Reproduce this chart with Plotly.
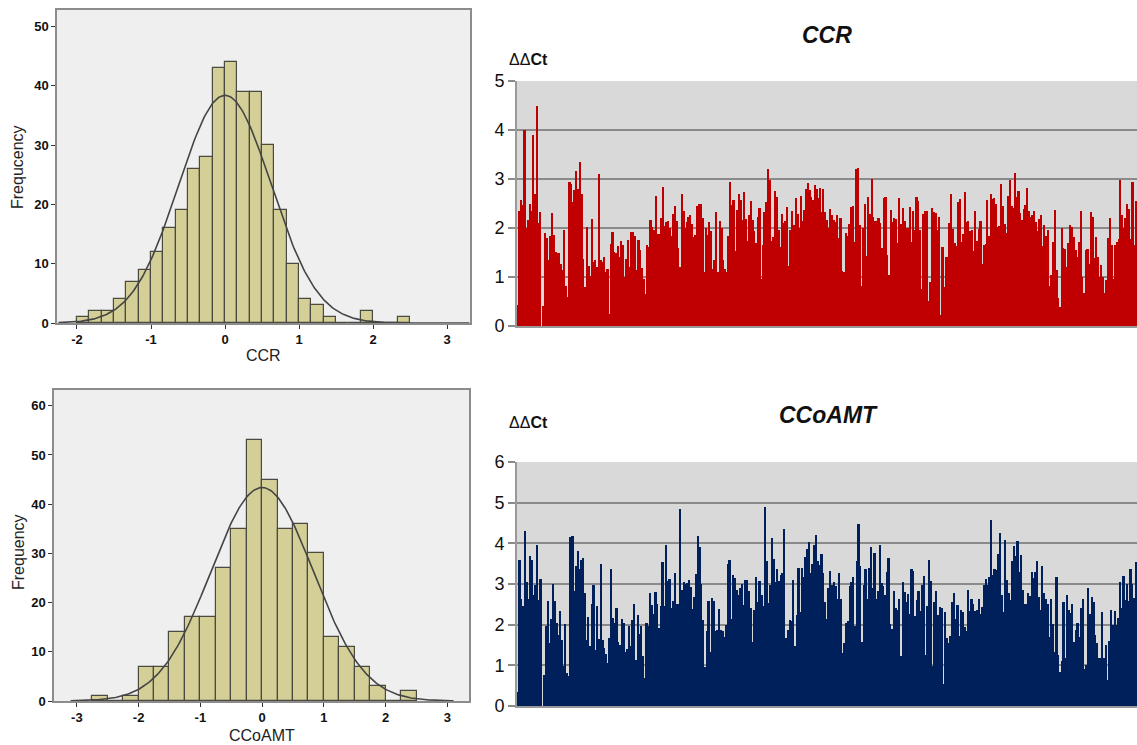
import math
import plotly.graph_objects as go

W, H = 1137, 745

# ---------------- Histogram data ----------------
ccr_bin_start = -2.0
ccr_bin_width = 1 / 6
ccr_counts = [1, 2, 2, 4, 7, 9, 12, 16, 19, 26, 28, 43, 44, 39, 39, 30, 19, 10, 4, 3, 1, 0, 0, 2, 0, 0, 1]
ccr_fit = dict(mean=0.0, sd=0.625, n=361)

ccoamt_bin_start = -2.75
ccoamt_bin_width = 0.25
ccoamt_counts = [1, 0, 1, 7, 7, 14, 17, 17, 27, 35, 53, 45, 35, 36, 30, 13, 11, 7, 3, 0, 2]
ccoamt_fit = dict(mean=0.0, sd=0.83, n=361)

# ---------------- ΔΔCt per sample ----------------
ccr_ddct = [
    0.43, 2.35, 2.57, 2.47, 4.0, 2.0, 2.16, 2.5, 2.35, 3.9, 2.7, 4.49, 2.1, 2.33, 0, 0.4, 1.89, 1.79, 1.35, 1.84,
    2.3, 1.86, 1.52, 1.5, 1.48, 1.27, 1.14, 1.96, 0.82, 0.6, 2.93, 2.9, 2.54, 2.78, 3.16, 2.8, 3.34, 2.7, 1.37, 0.8,
    2.02, 1.22, 1.02, 2.18, 1.31, 1.35, 1.21, 3.1, 1.35, 1.3, 1.41, 1.1, 1.16, 0.25, 1.67, 1.91, 1.52, 1.48, 1.63, 1.41,
    1.74, 1.65, 0.99, 1.37, 1.76, 1.21, 1.91, 1.91, 1.84, 1.14, 1.76, 1.55, 1.18, 0.96, 0.65, 1.65, 1.62, 2.16, 2.03, 1.96,
    2.66, 1.87, 1.87, 2.2, 2.83, 2.04, 2.13, 2.15, 2.01, 1.84, 2.28, 2.44, 2.15, 1.6, 1.21, 2.69, 2.35, 2.0, 2.13, 2.23,
    2.27, 2.08, 1.82, 1.86, 2.44, 2.49, 2.48, 2.2, 1.11, 2.0, 1.86, 2.13, 1.93, 1.16, 1.35, 2.32, 1.1, 2.15, 2.0, 1.35,
    1.16, 1.11, 1.84, 2.93,
    2.47, 2.57, 1.54, 2.37, 2.7, 2.57, 2.16, 2.74, 2.18, 1.74, 2.27, 2.56, 2.16, 1.93, 1.7, 2.23, 2.4, 0.95, 1.65, 2.33,
    2.54, 3.2, 2.98, 1.74, 1.81, 2.76, 2.64, 1.96, 1.62, 2.28, 2.11, 2.14, 2.42, 1.23, 1.96, 2.35, 2.06, 2.61, 2.28, 2.0,
    2.65, 2.15, 2.37, 2.8, 2.91, 2.78, 2.64, 2.57, 2.88, 2.8, 2.62, 2.81, 2.32, 2.79, 2.32, 2.16, 2.0, 2.38, 2.27, 2.16,
    2.13, 2.27, 1.79, 2.21, 1.12, 1.11, 1.89, 1.84, 2.08, 2.42, 2.44, 1.72, 3.2, 3.23, 2.06, 0.82, 2.0, 2.49, 1.43, 2.63,
    2.28, 3.01, 2.23, 2.14, 2.14, 2.2, 2.1, 1.6, 2.61, 2.63, 1.45, 1.05, 2.37, 2.13, 2.2, 2.18, 1.69, 2.61, 2.08, 2.4,
    2.14, 2.0, 2.0, 2.42, 1.72, 2.35, 1.96, 2.63, 2.56, 1.95, 0.75, 2.28, 2.35, 2.35, 0.51, 0.89, 2.41,
    2.32, 2.3, 1.96, 2.22, 0.22, 1.61, 0.79, 1.41, 1.41, 2.1, 2.69, 1.98, 1.69, 1.63, 2.54, 2.59, 1.72, 1.87, 2.74, 2.13,
    2.14, 1.94, 1.96, 1.53, 2.35, 1.74, 1.98, 2.15, 1.26, 1.65, 1.67, 2.57, 1.84, 2.69, 2.59, 2.62, 2.5, 2.03, 2.05, 2.9,
    2.44, 2.08, 1.89, 2.65, 2.97, 2.44, 2.4, 3.12, 2.63, 2.76, 2.31, 2.16, 2.38, 2.47, 2.81, 2.35, 2.23, 2.27, 2.35, 2.13,
    1.94, 2.18, 2.27, 1.63, 2.06, 1.84, 1.96, 0.82, 1.04, 1.71, 2.37, 1.14, 0.58, 0.39, 2.0, 1.59, 1.57, 1.2, 1.69, 2.06,
    2.03, 1.81, 1.55, 1.41, 1.72, 2.35, 1.01, 0.68, 1.55, 1.57, 1.27, 2.32, 2.23, 1.38, 1.81, 1.41, 1.01, 1.24, 0.99, 0.68,
    0.94, 1.79, 2.2, 1.65, 0.96, 1.65, 1.72, 1.78, 2.98, 2.27, 2.01, 2.2, 2.48, 2.39, 1.78, 2.93, 1.65, 2.55,
]

ccoamt_ddct = [
    0.35, 3.6, 2.64, 2.46, 4.31, 3.05, 2.63, 3.68, 3.58, 2.74, 2.97, 3.97, 2.6, 3.12, 0, 0.76, 1.96, 2.58, 1.56, 2.15,
    3.01, 2.59, 2.03, 1.74, 2.34, 1.62, 0.99, 2.01, 0.8, 0.74, 4.15, 4.19, 2.83, 3.44, 3.81, 3.38, 3.6, 3.63, 2.78, 1.62,
    2.18, 1.48, 2.5, 2.97, 1.37, 2.45, 1.64, 3.49, 1.62, 1.42, 1.29, 1.05, 1.66, 3.38, 2.17, 2.03, 2.42, 1.58, 1.5, 2.13,
    2.05, 1.33, 1.4, 1.96, 1.48, 2.11, 2.5, 1.13, 2.25, 1.77, 1.96, 1.24, 0.7, 2.05, 1.97, 2.79, 2.48, 2.26, 2.81, 2.5,
    1.92, 2.46, 3.54, 2.46, 3.97, 3.07, 3.13, 2.4, 2.58, 3.26, 2.5, 2.52, 4.85, 2.85, 3.05, 3.01, 3.03, 3.09, 2.93, 2.38,
    2.68, 3.24, 4.19, 3.91, 3.01, 2.11, 0.95, 1.84, 2.59, 1.32, 2.66, 2.59, 1.85, 1.87, 2.38, 1.87, 1.84, 1.69, 1.99, 3.5,
    3.58, 2.13, 3.22, 3.15, 2.86, 2.74, 2.89, 3.01, 2.48, 3.09, 3.09, 2.83, 2.4, 1.58, 2.36, 3.18, 2.56, 3.07, 2.74, 2.46,
    4.89, 3.56, 2.54, 2.97, 4.12, 3.61, 3.04, 3.36, 3.07, 3.22, 3.26, 4.36, 1.68, 1.88, 2.11, 2.09, 3.11, 1.48, 2.23, 3.4,
    2.3, 3.4, 3.18, 3.67, 3.87, 4.03, 3.26, 3.5, 3.95, 4.2, 3.57, 3.46, 3.73, 3.26, 2.56, 2.14, 2.89, 3.31, 2.97, 3.05,
    2.95, 2.63, 3.28, 2.62, 1.31, 1.54, 2.03, 2.09, 2.95, 3.05, 3.16, 1.96, 3.56, 4.47, 3.44, 1.58, 2.97, 3.36, 2.63, 3.4,
    3.9, 2.91, 3.77, 2.64, 2.83, 3.95, 3.03, 2.95, 2.74, 3.3, 3.65, 2.01, 1.89, 2.82, 2.42, 2.36, 2.64, 1.23, 3.04, 2.81,
    2.56, 2.75, 2.27, 3.38, 3.31, 2.21, 2.6, 2.82, 2.33, 2.97, 3.2, 1.25, 2.45, 3.58, 3.07, 0.98, 2.56,
    2.82, 2.25, 2.44, 2.42, 0.54, 2.32, 1.66, 1.54, 1.72, 2.56, 2.78, 2.13, 2.48, 1.73, 2.36, 2.32, 1.95, 1.85, 2.85, 2.34,
    2.64, 2.5, 2.33, 2.36, 2.64, 2.26, 2.44, 2.97, 3.13, 2.97, 3.18, 4.57, 3.23, 3.36, 3.34, 3.73, 4.26, 2.73, 2.32, 4.09,
    3.09, 2.79, 2.6, 3.56, 3.93, 3.68, 4.06, 3.3, 3.72, 2.85, 2.52, 2.5, 2.77, 2.7, 3.3, 3.15, 3.3, 3.56, 2.68, 2.36,
    3.44, 2.79, 2.64, 2.5, 1.7, 2.63, 2.01, 1.32, 3.18, 1.25, 0.84, 1.1, 2.56, 1.17, 2.74, 2.36, 2.29, 2.5, 1.58, 1.88,
    2.03, 1.7, 2.41, 2.64, 0.92, 1.01, 2.91, 2.27, 2.68, 2.56, 1.74, 1.54, 1.19, 1.19, 2.32, 1.19, 1.5, 0.64, 1.6, 2.37,
    1.99, 2.34, 1.99, 2.17, 3.05, 2.4, 3.19, 2.6, 3.01, 2.59, 3.36, 3.01, 2.66, 3.54,
]

# ---------------- Styles ----------------
HIST_FILL = "#d3cf96"
HIST_EDGE = "#4a4a40"
HIST_BG = "#efefef"
FRAME = "#8c8c8c"
CURVE = "#454545"
RED = "#c00000"
NAVY = "#00205c"
PANEL_BG = "#d9d9d9"
GRID = "#8a8a8a"


def px(x):
    return x / W


def py(y):
    return 1 - y / H


def normal_curve(fit, bw, x0, x1, steps=300):
    xs, ys = [], []
    for i in range(steps + 1):
        x = x0 + (x1 - x0) * i / steps
        d = math.exp(-0.5 * ((x - fit["mean"]) / fit["sd"]) ** 2) / (fit["sd"] * math.sqrt(2 * math.pi))
        xs.append(x)
        ys.append(fit["n"] * bw * d)
    return xs, ys


fig = go.Figure()

# Histogram CCR
ccr_centers = [ccr_bin_start + ccr_bin_width * (i + 0.5) for i in range(len(ccr_counts))]
fig.add_trace(go.Bar(x=ccr_centers, y=ccr_counts, width=ccr_bin_width,
                     marker=dict(color=HIST_FILL, line=dict(color=HIST_EDGE, width=1.2)),
                     xaxis="x", yaxis="y", showlegend=False, hoverinfo="skip"))
cx, cy = normal_curve(ccr_fit, ccr_bin_width, -2.25, 3.3)
fig.add_trace(go.Scatter(x=cx, y=cy, mode="lines", line=dict(color=CURVE, width=1.6),
                         xaxis="x", yaxis="y", showlegend=False, hoverinfo="skip"))

# Histogram CCoAMT
cco_centers = [ccoamt_bin_start + ccoamt_bin_width * (i + 0.5) for i in range(len(ccoamt_counts))]
fig.add_trace(go.Bar(x=cco_centers, y=ccoamt_counts, width=ccoamt_bin_width,
                     marker=dict(color=HIST_FILL, line=dict(color=HIST_EDGE, width=1.2)),
                     xaxis="x2", yaxis="y2", showlegend=False, hoverinfo="skip"))
cx2, cy2 = normal_curve(ccoamt_fit, ccoamt_bin_width, -3.1, 3.1)
fig.add_trace(go.Scatter(x=cx2, y=cy2, mode="lines", line=dict(color=CURVE, width=1.6),
                         xaxis="x2", yaxis="y2", showlegend=False, hoverinfo="skip"))

# Bar charts
fig.add_trace(go.Bar(x=list(range(len(ccr_ddct))), y=ccr_ddct, marker=dict(color=RED, line=dict(width=0)),
                     xaxis="x3", yaxis="y3", showlegend=False, hoverinfo="skip"))
fig.add_trace(go.Bar(x=list(range(len(ccoamt_ddct))), y=ccoamt_ddct, marker=dict(color=NAVY, line=dict(width=0)),
                     xaxis="x4", yaxis="y4", showlegend=False, hoverinfo="skip"))

hist_tick_font = dict(family="Liberation Sans, Arial", size=13, color="#111")
hist_axis_common = dict(showgrid=False, zeroline=False, showline=True, linecolor=FRAME, linewidth=1.5,
                        mirror=True, ticks="outside", ticklen=4, tickcolor="#333", tickfont=hist_tick_font,
                        automargin=False)

right_tick_font = dict(family="Liberation Sans, Arial", size=18, color="#111")


def bold(vals):
    return ["<b>%d</b>" % v for v in vals]


fig.update_layout(
    width=W, height=H,
    margin=dict(l=0, r=0, t=0, b=0, autoexpand=False),
    paper_bgcolor="white",
    plot_bgcolor="white",
    bargap=0,
    barmode="overlay",
    xaxis=dict(domain=[px(57), px(470)], anchor="y", range=[-2.27, 3.31],
               tickvals=[-2, -1, 0, 1, 2, 3], ticktext=bold([-2, -1, 0, 1, 2, 3]), **hist_axis_common),
    yaxis=dict(domain=[py(323), py(10)], anchor="x", range=[0, 52.8],
               tickvals=[0, 10, 20, 30, 40, 50], ticktext=bold([0, 10, 20, 30, 40, 50]), **hist_axis_common),
    xaxis2=dict(domain=[px(54), px(469)], anchor="y2", range=[-3.37, 3.35],
                tickvals=[-3, -2, -1, 0, 1, 2, 3], ticktext=bold([-3, -2, -1, 0, 1, 2, 3]), **hist_axis_common),
    yaxis2=dict(domain=[py(701), py(390)], anchor="x2", range=[0, 63.2],
                tickvals=[0, 10, 20, 30, 40, 50, 60], ticktext=bold([0, 10, 20, 30, 40, 50, 60]), **hist_axis_common),
    xaxis3=dict(domain=[px(517), 1.0], anchor="y3", range=[-0.5, len(ccr_ddct) - 0.5], automargin=False,
                showticklabels=False, showgrid=False, zeroline=False, showline=True, linecolor="#999", linewidth=2),
    yaxis3=dict(domain=[py(326), py(81)], anchor="x3", range=[0, 5], dtick=1, automargin=False,
                showgrid=True, gridcolor=GRID, gridwidth=2, zeroline=False, showline=True, linecolor="#999",
                linewidth=2, ticks="outside", ticklen=7, tickwidth=2, tickcolor=GRID, tickfont=right_tick_font),
    xaxis4=dict(domain=[px(517), 1.0], anchor="y4", range=[-0.5, len(ccoamt_ddct) - 0.5], automargin=False,
                showticklabels=False, showgrid=False, zeroline=False, showline=True, linecolor="#999", linewidth=2),
    yaxis4=dict(domain=[py(706), py(462)], anchor="x4", range=[0, 6], dtick=1, automargin=False,
                showgrid=True, gridcolor=GRID, gridwidth=2, zeroline=False, showline=True, linecolor="#999",
                linewidth=2, ticks="outside", ticklen=7, tickwidth=2, tickcolor=GRID, tickfont=right_tick_font),
)

# Plot backgrounds
fig.add_shape(type="rect", xref="paper", yref="paper", x0=px(57), x1=px(470), y0=py(323), y1=py(10),
              fillcolor=HIST_BG, line=dict(width=0), layer="below")
fig.add_shape(type="rect", xref="paper", yref="paper", x0=px(54), x1=px(469), y0=py(701), y1=py(390),
              fillcolor=HIST_BG, line=dict(width=0), layer="below")
fig.add_shape(type="rect", xref="paper", yref="paper", x0=px(517), x1=1.0, y0=py(326), y1=py(81),
              fillcolor=PANEL_BG, line=dict(width=0), layer="below")
fig.add_shape(type="rect", xref="paper", yref="paper", x0=px(517), x1=1.0, y0=py(706), y1=py(462),
              fillcolor=PANEL_BG, line=dict(width=0), layer="below")


def ann(text, x, y, size, angle=0, family="Liberation Sans, Arial", color="#222"):
    fig.add_annotation(text=text, x=px(x), y=py(y), xref="paper", yref="paper", showarrow=False,
                       textangle=angle, font=dict(family=family, size=size, color=color),
                       xanchor="center", yanchor="middle")


ann("Frequcency", 18, 167, 16, angle=-90)
ann("CCR", 263, 355, 16)
ann("Frequency", 18, 552, 16, angle=-90)
ann("CCoAMT", 262, 735, 16)

ann("<b><i>CCR</i></b>", 827, 35, 23, color="#111")
ann("<b><i>CCoAMT</i></b>", 828, 415, 23, color="#111")
ann("ΔΔ<b>Ct</b>", 528, 60, 16, color="#111")
ann("ΔΔ<b>Ct</b>", 528, 422, 16, color="#111")

fig.write_html(
    "out.html",
    config={"displayModeBar": False},
    post_script="document.body.style.margin='0';document.body.style.overflow='hidden';",
)
